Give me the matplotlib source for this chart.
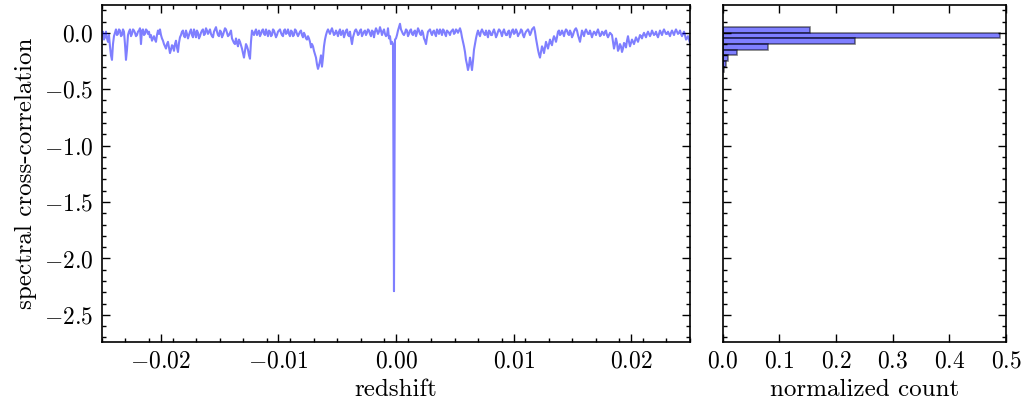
import numpy as np
import matplotlib
matplotlib.use("Agg")
import matplotlib.pyplot as plt

# ---- data ----
z_min, z_max = -0.025, 0.025
# samples at even pixel columns of the reference trace
xcorr = [
    -0.02, -0.06, 0.01, -0.08, -0.12, -0.24, -0.03, 0.03, -0.01, 0.02,
    -0.02, 0.01, -0.24, -0.02, 0.03,
    -0.01, 0.02, -0.03, 0.01, 0.04, 0.02, -0.02, 0.03, -0.01, -0.04,
    -0.07, -0.03, -0.08, 0.02, 0.03,
    -0.05, -0.10, -0.14, -0.08, -0.18, -0.11, -0.16, -0.07, -0.17, -0.04,
    0.01, -0.03, 0.02, -0.05, 0.01, -0.02, 0.03, -0.04, 0.00, -0.03,
    0.02, -0.02, 0.04, -0.01, 0.03, -0.03, 0.01, 0.05, -0.02, 0.02,
    -0.04, 0.01, 0.03, -0.03, 0.00, -0.05, -0.09, -0.05, -0.12, -0.08,
    -0.14, -0.22, -0.10, -0.15, -0.23, 0.02, -0.02, 0.03, 0.00, -0.03,
    0.02, -0.01, 0.03, -0.03, 0.01, -0.02, 0.02, -0.04, 0.01, 0.03,
    -0.02, 0.02, -0.01, 0.03, -0.03, 0.01, -0.02, 0.02, -0.03, 0.01,
    -0.02, 0.00, -0.05, -0.03, -0.08,
    -0.10, -0.16, -0.22, -0.32, -0.25, -0.30, -0.12, -0.02, 0.03, -0.01,
    0.04, -0.02, 0.02, -0.03, 0.03, 0.00, -0.04, 0.02, -0.02, 0.01,
    -0.10, -0.01, 0.03, -0.02, 0.02, -0.03, 0.01, -0.02, 0.03, -0.01,
    0.02, -0.04, 0.04, -0.01, 0.05, -0.02, 0.03, -0.03, 0.04,
    -0.03, -0.08, -2.29, -0.05, 0.02, 0.08,
    0.01, -0.02, 0.03, -0.03, 0.02, -0.01, 0.01, -0.03, 0.04, -0.01,
    0.02, -0.05, -0.10, 0.01, 0.03, -0.02, 0.02, -0.03, 0.01, 0.03,
    -0.02, 0.02, -0.03, 0.01, -0.02,
    0.02, -0.01, 0.03, 0.00, 0.04, -0.04, -0.12, -0.24, -0.33, -0.22,
    -0.33, -0.15, -0.05, 0.02, -0.03, 0.03, -0.01, 0.02, -0.04, 0.01,
    -0.02, 0.03, -0.04, 0.01, 0.02, -0.03, 0.03, -0.02, 0.01, -0.04,
    0.02, -0.01, 0.03, -0.03, 0.00, 0.02, -0.04, 0.01, 0.03, -0.02,
    0.03, 0.05, -0.05, -0.15, -0.22, -0.12, -0.18, -0.08, -0.14, -0.06,
    -0.11, -0.03, -0.08, 0.01, -0.02,
    0.02, -0.03, 0.03, -0.01, 0.02, -0.04, 0.01, 0.04, -0.02, -0.08,
    0.02, -0.03, 0.03, -0.01, 0.02, -0.04, 0.01, -0.02, 0.03, -0.03,
    0.01, -0.02, 0.02, -0.04, 0.00,
    -0.02, -0.14, -0.05, -0.16, -0.10, -0.17, -0.09, -0.13, -0.03, -0.12,
    -0.06, -0.10, -0.04, -0.08, -0.02,
    -0.05, 0.00, -0.04, 0.01, -0.03, 0.02, -0.02, 0.01, -0.04, 0.02,
    -0.02, 0.03, -0.01, 0.01, -0.03, 0.02, -0.02, 0.03, -0.01, 0.02,
    -0.03, 0.01, -0.06, -0.03, -0.09,
]
# samples at the odd pixel columns in between
xcorr_mid = [
    0.01, -0.04, -0.05, -0.02, -0.20, -0.10, 0.00, -0.02, 0.03, -0.03,
    0.03, -0.10, -0.15, 0.01,
    -0.03, 0.03, 0.00, -0.02, 0.02, -0.10, 0.03, -0.01, 0.02, 0.01,
    -0.02, -0.05, -0.06, -0.02, -0.01,
    -0.02, -0.07, -0.12, -0.10, -0.13, -0.15, -0.12, -0.10, -0.13, -0.09,
    -0.02, 0.02, -0.04, -0.01, -0.02, 0.03, -0.04, 0.00, 0.02, -0.05,
    0.00, 0.03, -0.01, 0.02, 0.01, -0.01, -0.04, 0.03, 0.01, -0.03,
    0.01, -0.02, 0.04, 0.00, -0.02, 0.02, -0.07, -0.10, -0.09, -0.06,
    -0.11, -0.18, -0.16, -0.12, -0.20, -0.08, 0.00, 0.01, -0.02, 0.02,
    -0.01, 0.03, -0.02, 0.00, 0.02, -0.03, 0.03, -0.01, -0.02, 0.02,
    0.00, -0.03, 0.03, 0.00, -0.01, 0.02, -0.03, 0.03, -0.01, -0.01,
    0.02, -0.04, -0.02, -0.06, -0.05,
    -0.13, -0.12, -0.19, -0.28, -0.29, -0.20, -0.22, -0.06, 0.01, 0.01,
    0.02, 0.01, -0.01, 0.00, 0.01, -0.02, 0.02, -0.01, 0.03, -0.03,
    -0.05, -0.04, 0.02, 0.01, -0.01, 0.03, -0.01, 0.02, 0.00, 0.02,
    -0.03, 0.01, 0.01, 0.02, 0.01, 0.02, 0.01, -0.01, -0.02,
    -0.05, -0.10, -0.10, -0.06, -0.02, 0.05,
    0.03, -0.01, 0.00, 0.02, -0.01, 0.03, -0.02, 0.02, 0.00, 0.02,
    -0.02, 0.00, -0.07, -0.04, 0.02, 0.00, 0.01, -0.01, 0.03, -0.01,
    0.01, 0.03, -0.01, 0.02, 0.00,
    0.01, 0.03, 0.00, 0.02, 0.02, 0.01, -0.08, -0.17, -0.28, -0.29,
    -0.27, -0.25, -0.10, -0.01, -0.01, 0.01, 0.01, -0.02, -0.01, 0.02,
    -0.02, 0.01, 0.00, -0.02, 0.03, 0.00, 0.01, 0.00, -0.02, 0.02,
    -0.01, 0.03, 0.00, 0.01, -0.01, 0.03, -0.02, -0.01, 0.02, 0.01,
    0.00, 0.04, 0.01, -0.10, -0.19, -0.17, -0.14, -0.13, -0.11, -0.10,
    -0.09, -0.06, -0.05, -0.04, 0.02,
    -0.01, 0.00, 0.01, 0.02, -0.02, 0.00, -0.02, 0.03, 0.02, -0.05,
    -0.03, 0.00, 0.01, 0.01, -0.01, -0.01, -0.01, 0.00, 0.01, 0.00,
    -0.02, 0.00, 0.01, -0.02, -0.02,
    -0.01, -0.08, -0.10, -0.09, -0.14, -0.12, -0.14, -0.10, -0.07, -0.08,
    -0.09, -0.08, -0.07, -0.06, -0.05,
    -0.03, -0.02, -0.02, -0.01, -0.01, -0.01, 0.00, -0.01, -0.02, -0.01,
    0.00, 0.01, 0.01, -0.01, -0.01, 0.00, 0.00, 0.01, 0.01, 0.00,
    -0.01, -0.01, -0.02, -0.05, -0.06,
]

hist_edges = [0.05, 0.0, -0.05, -0.10, -0.15, -0.20, -0.25, -0.30, -0.35]
hist_counts = [0.154, 0.49, 0.233, 0.0805, 0.0247, 0.0099, 0.0053, 0.003]

# merge the two sample sets into one trace
n_mid = min(len(xcorr) - 1, len(xcorr_mid))
trace = []
for i in range(len(xcorr)):
    trace.append(xcorr[i])
    if i < n_mid:
        trace.append(xcorr_mid[i])
redshift = np.linspace(z_min, z_max, len(trace))

# ---- style ----
plt.rcParams.update({
    "font.family": "serif",
    "font.serif": ["cmr10"],
    "mathtext.fontset": "cm",
    "axes.formatter.use_mathtext": True,
    "axes.unicode_minus": True,
    "font.size": 17,
    "axes.labelsize": 18,
    "axes.linewidth": 1.2,
    "xtick.direction": "in",
    "ytick.direction": "in",
    "xtick.top": True,
    "ytick.right": True,
    "xtick.minor.visible": True,
    "ytick.minor.visible": True,
    "xtick.major.size": 5.5,
    "ytick.major.size": 5.5,
    "xtick.minor.size": 2.8,
    "ytick.minor.size": 2.8,
    "xtick.major.width": 1.0,
    "ytick.major.width": 1.0,
    "xtick.minor.width": 1.0,
    "ytick.minor.width": 1.0,
    "xtick.major.pad": 6,
    "ytick.major.pad": 6,
})

fig = plt.figure(figsize=(10.28, 4.12), dpi=100)
ax1 = fig.add_axes([0.0992, 0.170, 0.5720, 0.8175])
ax2 = fig.add_axes([0.7030, 0.170, 0.2756, 0.8175], sharey=ax1)

ax1.plot(redshift, trace, color="blue", alpha=0.5, lw=1.5)
ax1.set_xlim(z_min, z_max)
ax1.set_ylim(-2.74, 0.245)
ax1.set_xticks([-0.02, -0.01, 0.0, 0.01, 0.02])
ax1.set_xticks(np.arange(-0.025, 0.0251, 0.002), minor=True)
ax1.set_yticks([-2.5, -2.0, -1.5, -1.0, -0.5, 0.0])
ax1.set_yticks(np.arange(-2.7, 0.25, 0.1), minor=True)
ax1.set_xticklabels([r"$-0.02$", r"$-0.01$", r"$0.00$", r"$0.01$", r"$0.02$"])
ax1.set_yticklabels([r"$-2.5$", r"$-2.0$", r"$-1.5$", r"$-1.0$", r"$-0.5$", r"$0.0$"])
ax1.set_xlabel("redshift", labelpad=5)
ax1.set_ylabel("spectral cross-correlation", labelpad=5)

bottoms = np.array(hist_edges[1:])
heights = np.array(hist_edges[:-1]) - bottoms
ax2.barh(bottoms, hist_counts, height=heights, align="edge",
         color=(0, 0, 1, 0.5), edgecolor=(0, 0, 0, 0.5), lw=1.2)
ax2.set_xlim(0, 0.5)
ax2.set_xticks([0.0, 0.1, 0.2, 0.3, 0.4, 0.5])
ax2.set_xticklabels([r"$0.0$", r"$0.1$", r"$0.2$", r"$0.3$", r"$0.4$", r"$0.5$"])
ax2.xaxis.set_minor_locator(matplotlib.ticker.NullLocator())
ax2.tick_params(axis="y", labelleft=False)
ax2.set_xlabel("normalized count", labelpad=5)

fig.savefig("out.png", dpi=100)
